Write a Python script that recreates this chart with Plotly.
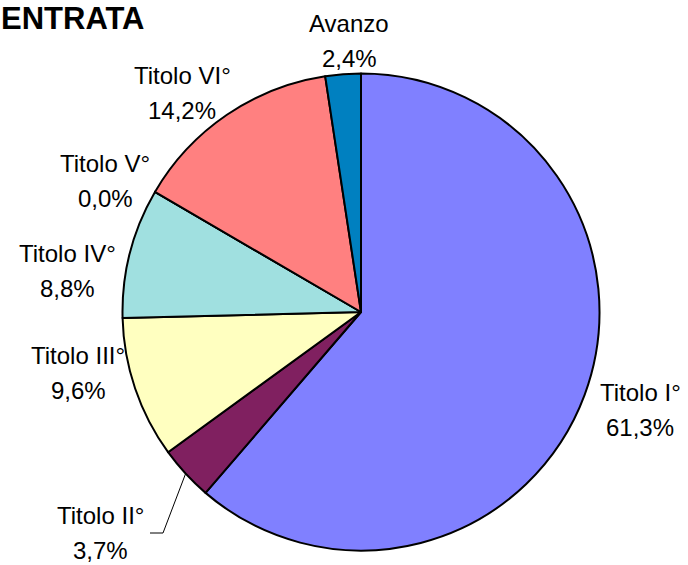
import math

import plotly.graph_objects as go

# Data (share of total income, %)
labels = ["Titolo I°", "Titolo II°", "Titolo III°", "Titolo IV°", "Titolo V°", "Titolo VI°", "Avanzo"]
values = [61.3, 3.7, 9.6, 8.8, 0.0, 14.2, 2.4]
colors = ["#8080FF", "#802060", "#FFFFC0", "#A0E0E0", "#660066", "#FF8080", "#0080C0"]
title_text = "ENTRATA"

W, H = 688, 565
CX, CY, R = 361, 312, 238.5  # pie centre / radius in pixels

# label block centres, offsets from pie centre in px (layout only)
label_offsets = [(279, 98), (-261, 221), (-283, 61), (-294, -41), (-256, -131), (-179, -219), (-12, -271)]
LINE_GAP = 35.5  # distance between the two text lines


def px(x):
    return x / W


def py(y):
    return 1 - y / H


fig = go.Figure()
fig.add_trace(go.Pie(
    labels=labels, values=values, sort=False, direction="clockwise", rotation=0,
    marker=dict(colors=colors, line=dict(color="black", width=2)),
    textinfo="none", hoverinfo="label+percent", showlegend=False,
    domain=dict(x=[px(CX - R), px(CX + R)], y=[py(CY + R), py(CY - R)]),
))

font = dict(family="Liberation Sans, Arial, sans-serif", size=24, color="black")
total = sum(values)
annotations = []
for lab, val, (dx, dy) in zip(labels, values, label_offsets):
    pct = f"{val / total * 100:.1f}%".replace(".", ",")
    x, y = CX + dx, CY + dy
    annotations.append(dict(x=px(x), y=py(y - LINE_GAP / 2), xref="paper", yref="paper",
                            text=lab, showarrow=False, font=font, xanchor="center", yanchor="middle"))
    annotations.append(dict(x=px(x), y=py(y + LINE_GAP / 2), xref="paper", yref="paper",
                            text=pct, showarrow=False, font=font, xanchor="center", yanchor="middle"))

# leader line for Titolo II° (from the middle of its slice to the label)
start = sum(values[:1])
mid = (start + values[1] / 2) / total * 2 * math.pi
ex, ey = CX + R * math.sin(mid), CY - R * math.cos(mid)
lx, ly = CX + label_offsets[1][0], CY + label_offsets[1][1]
fig.add_shape(type="path", xref="paper", yref="paper",
              path=f"M {px(lx + 50)},{py(ly)} L {px(lx + 63)},{py(ly)} L {px(ex)},{py(ey)}",
              line=dict(color="black", width=1))

annotations.append(dict(x=0, y=1, xref="paper", yref="paper", text=f"<b>{title_text}</b>",
                        showarrow=False, xanchor="left", yanchor="top", borderpad=0,
                        font=dict(family="Liberation Sans, Arial, sans-serif", size=31, color="black")))

fig.update_layout(
    width=W, height=H, margin=dict(l=0, r=0, t=0, b=0),
    paper_bgcolor="white", plot_bgcolor="white",
    annotations=annotations,
)
# drop the browser's default body margin so the figure fills the window
fig.write_html("out.html", config={"displayModeBar": False},
               post_script="document.body.style.margin = '0px';")
